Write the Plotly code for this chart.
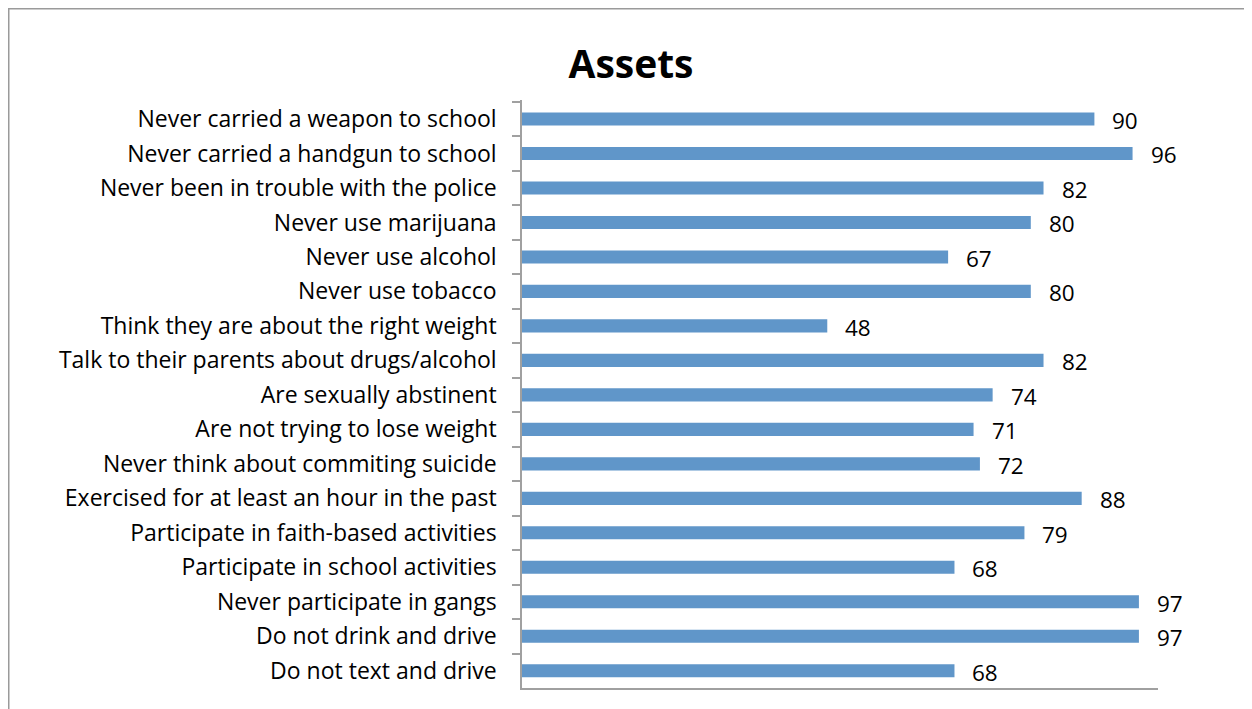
import plotly.graph_objects as go

categories = [
    "Never carried a weapon to school",
    "Never carried a handgun to school",
    "Never been in trouble with the police",
    "Never use marijuana",
    "Never use alcohol",
    "Never use tobacco",
    "Think they are about the right weight",
    "Talk to their parents about drugs/alcohol",
    "Are sexually abstinent",
    "Are not trying to lose weight",
    "Never think about commiting suicide",
    "Exercised for at least an hour in the past",
    "Participate in faith-based activities",
    "Participate in school activities",
    "Never participate in gangs",
    "Do not drink and drive",
    "Do not text and drive",
]
values = [90, 96, 82, 80, 67, 80, 48, 82, 74, 71, 72, 88, 79, 68, 97, 97, 68]

FONT = "Open Sans"
OFF = 8  # page body margin
W, H = 1252 - OFF, 709 - OFF
L, R, T, B = 522 - OFF, 1158 - OFF, 100 - OFF, 688 - OFF

fig = go.Figure()
fig.add_trace(go.Bar(
    x=values, y=categories, orientation="h",
    marker=dict(color="#6096C9", line=dict(width=0)),
    hoverinfo="skip",
))

for c, v in zip(categories, values):
    fig.add_annotation(x=v, y=c, xref="x", yref="y", text=str(v), showarrow=False,
                       xanchor="left", yanchor="middle", xshift=16, yshift=-1.5,
                       font=dict(family=FONT, size=22.5, color="#000000"))

pw, ph = R - L, B - T
fig.add_shape(type="rect", xref="paper", yref="paper",
              x0=(0.5 - L) / pw, x1=(1270 - L) / pw,
              y0=(B - 730) / ph, y1=(B - 0.5) / ph,
              line=dict(color="#9a9a9a", width=2), fillcolor="rgba(0,0,0,0)",
              layer="below")

fig.update_layout(
    width=W, height=H,
    margin=dict(l=L, r=W - R, t=T, b=H - B, pad=0),
    paper_bgcolor="white", plot_bgcolor="white",
    showlegend=False,
    bargap=0.62,
    title=dict(text="<b>Assets</b>", x=(631 - OFF) / W, xref="container", xanchor="center",
               y=1 - (64 - OFF) / H, yref="container", yanchor="middle",
               font=dict(family=FONT, size=39, color="#000000")),
    xaxis=dict(range=[0, 100], showgrid=False, zeroline=False, showticklabels=False,
               ticks="", showline=True, linecolor="#a0a0a0", linewidth=1.5, fixedrange=True),
    yaxis=dict(autorange="reversed", showgrid=False, zeroline=False,
               showline=True, linecolor="#a0a0a0", linewidth=1.5,
               ticks="outside", ticklen=8, tickcolor="#a0a0a0", tickwidth=1.5,
               tickson="boundaries", ticklabelstandoff=19,
               tickfont=dict(family=FONT, size=23, color="#000000")),
)

fig.write_html("out.html")
